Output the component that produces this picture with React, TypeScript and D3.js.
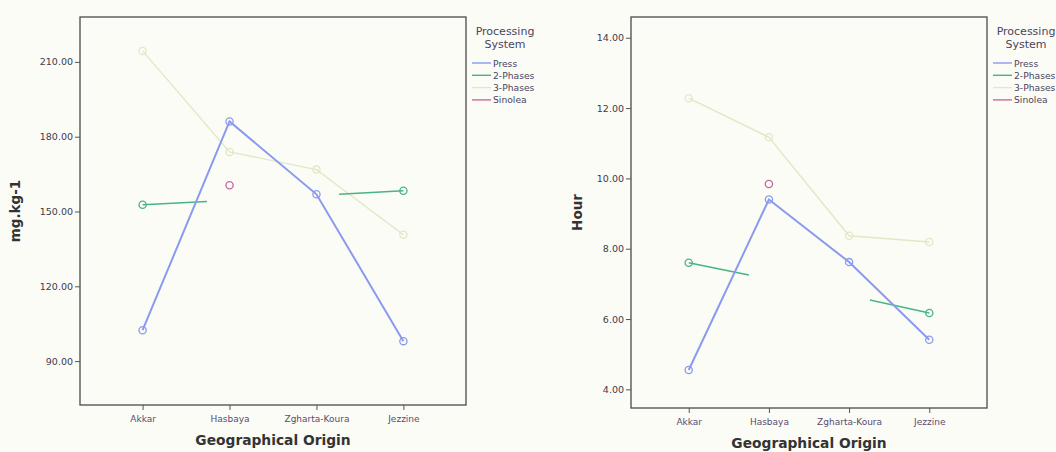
import React, { useEffect, useRef } from 'react';
import * as d3 from 'd3';

const categories = ['Akkar', 'Hasbaya', 'Zgharta-Koura', 'Jezzine'];
const seriesNames = ['Press', '2-Phases', '3-Phases', 'Sinolea'];
const seriesColors = ['#8a9aef', '#47b583', '#e2e7c6', '#c9669f'];
const seriesWidths = [2, 1.6, 1.4, 1.4];

// mg.kg-1 panel
const pressMg = [102.4, 186.1, 156.9, 98.0];
const twoPhasesMg = [152.7, null, null, 158.3];
const threePhasesMg = [214.4, 173.9, 166.8, 140.7];
const sinoleaMg = [null, 160.5, null, null];
// partial segments of 2-Phases (position in category steps, value)
const twoPhasesMgStubs = [
  { from: 0, at: 0.74, value: 154.0 },
  { from: 3, at: 2.26, value: 156.9 },
];
const mgTicks = [90, 120, 150, 180, 210];

// Hour panel
const pressHr = [4.55, 9.4, 7.62, 5.41];
const twoPhasesHr = [7.6, null, null, 6.17];
const threePhasesHr = [12.28, 11.17, 8.37, 8.19];
const sinoleaHr = [null, 9.84, null, null];
const twoPhasesHrStubs = [
  { from: 0, at: 0.75, value: 7.25 },
  { from: 3, at: 2.26, value: 6.54 },
];
const hrTicks = [4, 6, 8, 10, 12, 14];

const panels = [
  {
    left: 80, right: 466, top: 17, bottom: 405,
    domain: [72.4, 228], ticks: mgTicks, yTitle: 'mg.kg-1', yTitleX: 20,
    series: [pressMg, twoPhasesMg, threePhasesMg, sinoleaMg],
    stubs: twoPhasesMgStubs,
  },
  {
    left: 631, right: 987, top: 17, bottom: 408,
    domain: [3.47, 14.59], ticks: hrTicks, yTitle: 'Hour', yTitleX: 582,
    series: [pressHr, twoPhasesHr, threePhasesHr, sinoleaHr],
    stubs: twoPhasesHrStubs,
  },
];

const textColor = '#3c3a4c';

export default function App() {
  const ref = useRef<SVGSVGElement>(null);

  useEffect(() => {
    const svg = d3.select(ref.current);
    svg.selectAll('*').remove();

    svg.append('rect').attr('width', 1056).attr('height', 452).attr('fill', '#fcfcf7');

    panels.forEach((p) => {
      const g = svg.append('g');
      const x = d3.scalePoint<string>().domain(categories).range([p.left, p.right]).padding(0.72);
      const y = d3.scaleLinear().domain(p.domain).range([p.bottom, p.top]);

      // frame
      g.append('rect')
        .attr('x', p.left).attr('y', p.top)
        .attr('width', p.right - p.left).attr('height', p.bottom - p.top)
        .attr('fill', 'none').attr('stroke', '#4a4a4a').attr('stroke-width', 1.3);

      // y axis
      const yAxis = g.append('g').attr('transform', `translate(${p.left},0)`)
        .call(d3.axisLeft(y).tickValues(p.ticks).tickFormat(d3.format('.2f')).tickSize(5).tickSizeOuter(0));
      yAxis.select('.domain').remove();
      yAxis.selectAll('line').attr('stroke', '#555');
      yAxis.selectAll('text').attr('fill', textColor).attr('font-family', 'DejaVu Sans')
        .attr('font-size', 9.5).attr('dx', 1);

      // x axis
      const xAxis = g.append('g').attr('transform', `translate(0,${p.bottom})`)
        .call(d3.axisBottom(x).tickSize(5).tickSizeOuter(0));
      xAxis.select('.domain').remove();
      xAxis.selectAll('line').attr('stroke', '#555');
      xAxis.selectAll('text').attr('fill', '#5a4a6e').attr('font-family', 'DejaVu Sans')
        .attr('font-size', 9).attr('dy', '1.05em');

      // titles
      g.append('text')
        .attr('x', (p.left + p.right) / 2).attr('y', p.bottom + 40)
        .attr('text-anchor', 'middle').attr('font-family', 'DejaVu Sans').attr('font-weight', 'bold')
        .attr('font-size', 13.8).attr('fill', '#333').text('Geographical Origin');
      g.append('text')
        .attr('transform', `translate(${p.yTitleX},${(p.top + p.bottom) / 2}) rotate(-90)`)
        .attr('text-anchor', 'middle').attr('font-family', 'DejaVu Sans').attr('font-weight', 'bold')
        .attr('font-size', 13.5).attr('fill', '#333').text(p.yTitle);

      const line = d3.line<number | null>()
        .defined((d) => d != null)
        .x((d, i) => x(categories[i]) as number)
        .y((d) => y(d as number));

      // draw back to front: 3-Phases, 2-Phases, Press, Sinolea
      [2, 1, 0, 3].forEach((s) => {
        const vals = p.series[s];
        g.append('path').attr('d', line(vals)).attr('fill', 'none')
          .attr('stroke', seriesColors[s]).attr('stroke-width', seriesWidths[s]);
        if (s === 1) {
          p.stubs.forEach((st) => {
            const x0 = x(categories[st.from]) as number;
            const x1 = (x(categories[0]) as number) + st.at * x.step();
            g.append('line')
              .attr('x1', x0).attr('y1', y(vals[st.from] as number))
              .attr('x2', x1).attr('y2', y(st.value))
              .attr('stroke', seriesColors[s]).attr('stroke-width', seriesWidths[s]);
          });
        }
        vals.forEach((v, i) => {
          if (v == null) return;
          g.append('circle').attr('cx', x(categories[i]) as number).attr('cy', y(v)).attr('r', 3.6)
            .attr('fill', 'none').attr('stroke', seriesColors[s]).attr('stroke-width', 1.3);
        });
      });

      // legend
      const lx = p.right + 6;
      const leg = g.append('g').attr('font-family', 'DejaVu Sans').attr('fill', '#4a4460');
      leg.append('text').attr('x', lx + 33).attr('y', 35).attr('text-anchor', 'middle')
        .attr('font-size', 11).text('Processing');
      leg.append('text').attr('x', lx + 33).attr('y', 48).attr('text-anchor', 'middle')
        .attr('font-size', 11).text('System');
      seriesNames.forEach((name, i) => {
        const ly = 63 + i * 12.3;
        leg.append('line').attr('x1', lx).attr('x2', lx + 19).attr('y1', ly).attr('y2', ly)
          .attr('stroke', seriesColors[i]).attr('stroke-width', 1.4);
        leg.append('text').attr('x', lx + 21).attr('y', ly + 3.5).attr('font-size', 9.2).text(name);
      });
    });
  }, []);

  return (
    <svg ref={ref} width={1056} height={452}
      style={{ position: 'absolute', left: 0, top: 0, display: 'block' }} />
  );
}
